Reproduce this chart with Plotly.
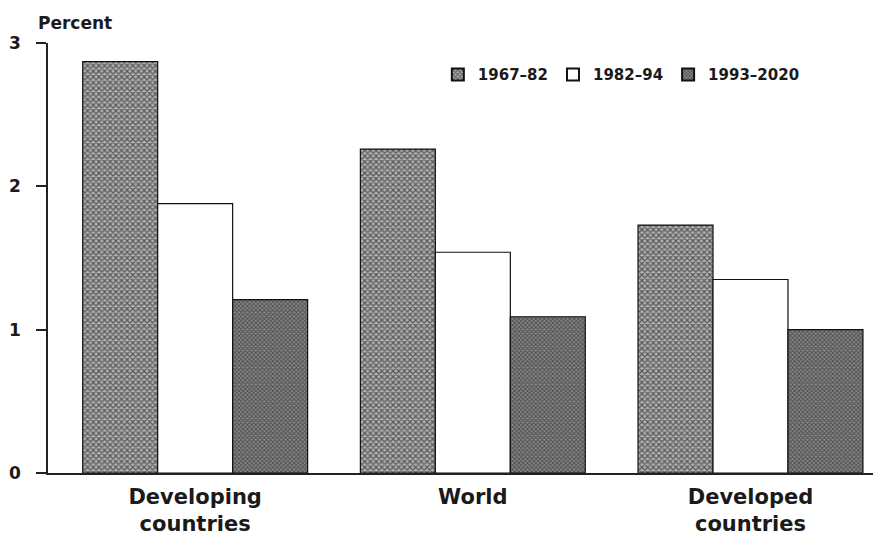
import plotly.graph_objects as go

categories = ["Developing<br>countries", "World", "Developed<br>countries"]
series_names = ["1967\u201382", "1982\u201394", "1993\u20132020"]
v_1967_82 = [2.87, 2.26, 1.73]
v_1982_94 = [1.88, 1.54, 1.35]
v_1993_2020 = [1.21, 1.09, 1.00]
y_ticks = [0, 1, 2, 3]

font_family = "DejaVu Sans, Arial, sans-serif"

fig = go.Figure()
fig.add_trace(go.Bar(
    x=categories, y=v_1967_82, name=series_names[0],
    marker=dict(color="#9a9a9a", line=dict(color="#111", width=1.2),
                pattern=dict(shape="x", fgcolor="#000", bgcolor="#b0b0b0", size=4, solidity=0.5)),
))
fig.add_trace(go.Bar(
    x=categories, y=v_1982_94, name=series_names[1],
    marker=dict(color="white", line=dict(color="#111", width=1.2)),
))
fig.add_trace(go.Bar(
    x=categories, y=v_1993_2020, name=series_names[2],
    marker=dict(color="#777", line=dict(color="#111", width=1.2),
                pattern=dict(shape="x", fgcolor="#111", bgcolor="#888888", size=3, solidity=0.5)),
))

fig.update_layout(
    width=881, height=543,
    margin=dict(l=40, r=8, t=35, b=78, autoexpand=False),
    paper_bgcolor="white", plot_bgcolor="white",
    barmode="group", bargap=0.19, bargroupgap=0,
    font=dict(family=font_family, color="#1a1a1a"),
    showlegend=True,
    legend=dict(orientation="h", x=0.468, y=0.926, xanchor="left", yanchor="middle",
                font=dict(size=15, family=font_family, weight="bold"),
                bgcolor="rgba(0,0,0,0)", itemwidth=30, tracegroupgap=0,
                itemsizing="constant"),
    xaxis=dict(range=[-0.53, 2.47], showline=True, linecolor="#222", linewidth=1.5,
               ticks="", ticklabelstandoff=4,
               tickfont=dict(size=21, family=font_family, weight="bold"),
               showgrid=False, zeroline=False, fixedrange=True),
    yaxis=dict(range=[0, 3], tickvals=y_ticks, ticktext=[str(t) for t in y_ticks],
               showline=True, linecolor="#222", linewidth=1.5,
               ticks="outside", ticklen=10, tickwidth=1.5, tickcolor="#222",
               ticklabelstandoff=12,
               tickfont=dict(size=17, family=font_family, weight="bold"),
               showgrid=False, zeroline=False, fixedrange=True),
    annotations=[dict(text="<b>Percent</b>", xref="paper", yref="paper", x=0, xshift=-12,
                      y=1, yshift=8, xanchor="left", yanchor="bottom", showarrow=False,
                      font=dict(size=17, family=font_family, color="#1a1a1a"))],
)

fig.write_html("out.html")
